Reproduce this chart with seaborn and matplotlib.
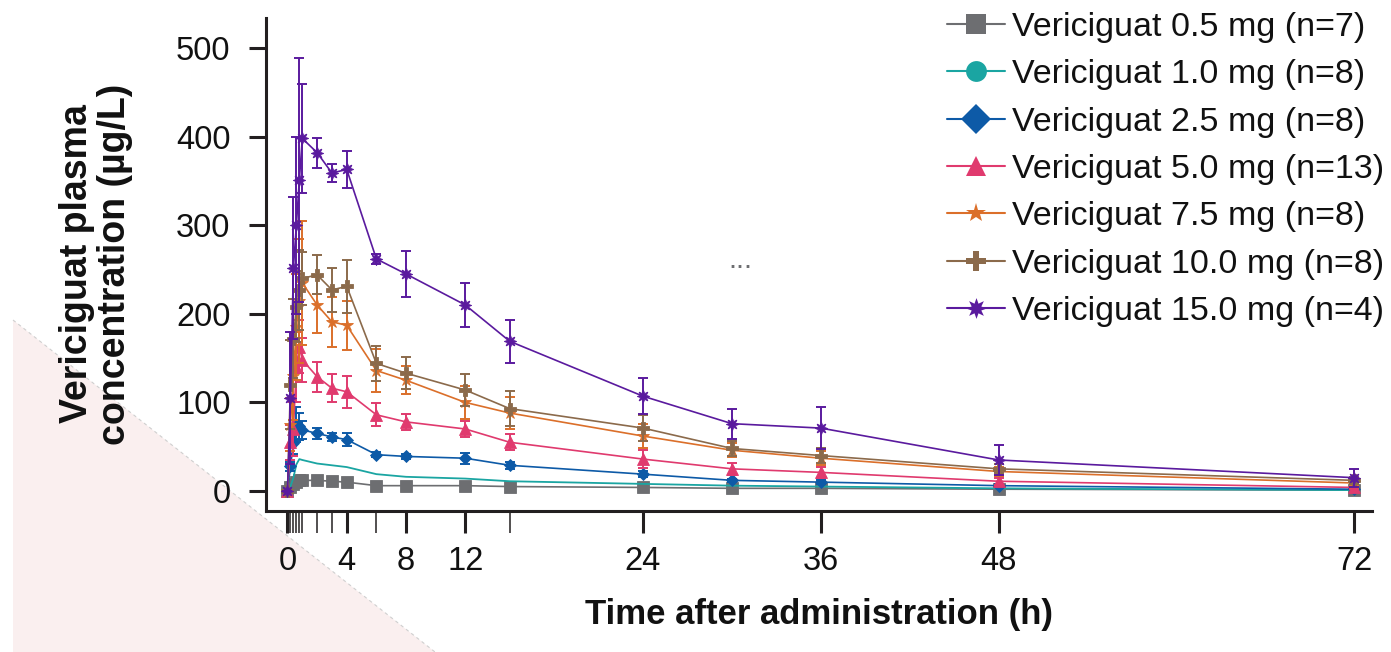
import seaborn as sns
import pandas as pd
import matplotlib.pyplot as plt
from matplotlib.lines import Line2D
from matplotlib.patches import Polygon

# sampling times (h)
times = [0, 0.2, 0.4, 0.6, 0.8, 1, 2, 3, 4, 6, 8, 12, 15, 24, 30, 36, 48, 72]

labels = ['Vericiguat 0.5 mg (n=7)', 'Vericiguat 1.0 mg (n=8)', 'Vericiguat 2.5 mg (n=8)',
          'Vericiguat 5.0 mg (n=13)', 'Vericiguat 7.5 mg (n=8)', 'Vericiguat 10.0 mg (n=8)',
          'Vericiguat 15.0 mg (n=4)']

# mean plasma concentration (ug/L) and SD per dose
conc_05 = [0, 4, 8, 10, 12, 12, 12, 11, 10, 6, 6, 6, 5, 4, 3, 3, 2, 1]
sd_05 = [0, 1, 2, 2, 2, 2, 2, 2, 2, 1, 1, 1, 1, 1, 1, 1, 0.5, 0.5]
conc_10 = [0, 5, 15, 30, 36, 35, 31, 29, 27, 19, 16, 14, 11, 8, 6, 5, 3, 1]
conc_25 = [0, 28, 54, 75, 73, 69, 65, 61, 58, 41, 39, 37, 29, 19, 12, 10, 6, 2]
sd_25 = [0, 5, 12, 20, 15, 10, 6, 5, 7, 3, 3, 6, 4, 3, 2, 2, 1.5, 1]
conc_50 = [0, 55, 70, 140, 163, 148, 129, 116, 112, 86, 78, 70, 55, 36, 25, 21, 11, 4]
sd_50 = [0, 20, 30, 40, 30, 25, 17, 16, 18, 13, 9, 9, 9, 10, 7, 6, 4, 2]
conc_75 = [0, 75, 130, 185, 215, 235, 210, 191, 187, 136, 125, 100, 88, 62, 46, 37, 22, 9]
sd_75 = [0, 30, 50, 60, 70, 70, 32, 28, 28, 24, 16, 19, 18, 14, 8, 8, 5, 3]
conc_100 = [0, 120, 172, 208, 227, 240, 244, 227, 231, 144, 133, 114, 93, 71, 48, 40, 25, 12]
sd_100 = [0, 50, 45, 40, 45, 30, 22, 25, 30, 20, 18, 18, 20, 15, 8, 8, 5, 4]
conc_150 = [0, 105, 252, 300, 351, 398, 382, 359, 363, 262, 245, 210, 169, 107, 76, 71, 35, 15]
sd_150 = [0, 75, 80, 100, 138, 62, 17, 10, 21, 6, 26, 25, 24, 20, 17, 24, 17, 10]

major_ticks = [0, 4, 8, 12, 24, 36, 48, 72]
minor_ticks = [0.2, 0.4, 0.6, 0.8, 1, 2, 3, 6, 15]

colors = ['#6d6e71', '#1aa5a2', '#0d5aa7', '#e03a6e', '#db6f2a', '#8b6a4b', '#5a1a9e']
markers = ['s', 'o', 'D', '^', '*', 'P', (8, 1, 0)]
msizes = [9, 6, 6, 8, 9, 9, 9]

series = [(conc_05, sd_05), (conc_10, None), (conc_25, sd_25), (conc_50, sd_50),
          (conc_75, sd_75), (conc_100, sd_100), (conc_150, sd_150)]

sns.set_style('ticks')
plt.rcParams['font.family'] = ['Liberation Sans', 'DejaVu Sans']
plt.rcParams['text.color'] = '#111111'
plt.rcParams['axes.labelcolor'] = '#111111'
plt.rcParams['xtick.labelcolor'] = '#111111'
plt.rcParams['ytick.labelcolor'] = '#111111'

fig = plt.figure(figsize=(13.91, 6.52), dpi=100)
ax = fig.add_axes([266 / 1391, 141 / 652, 1106 / 1391, 493 / 652])
ax.set_facecolor('none')

# faint pink page corner in the lower left
fig.patches.append(Polygon([(13 / 1391, 0), (13 / 1391, 332 / 652), (435 / 1391, 0)],
                           closed=True, transform=fig.transFigure, facecolor='#faefef',
                           edgecolor='none', zorder=-5))
fig.lines.append(Line2D([13 / 1391, 435 / 1391], [332 / 652, 0], transform=fig.transFigure,
                        color='#cfcfcf', lw=0.8, ls=(0, (3, 3)), zorder=-4))

for i, (conc, sd) in enumerate(series):
    df = pd.DataFrame({'time': times, 'conc': conc})
    if i == 1:
        # 1.0 mg drawn as a plain line
        sns.lineplot(data=df, x='time', y='conc', ax=ax, color=colors[i], linewidth=1.3,
                     errorbar=None, sort=False, legend=False)
        continue
    sns.lineplot(data=df, x='time', y='conc', ax=ax, color=colors[i], linewidth=1.2,
                 marker=markers[i], markersize=msizes[i], markeredgewidth=0.6,
                 markeredgecolor=colors[i], errorbar=None, sort=False, legend=False)
    ax.errorbar(times, conc, yerr=sd, fmt='none', ecolor=colors[i], elinewidth=1.4,
                capsize=3.5, capthick=1.4)

ax.set_xlim(-1.45, 73.2)
ax.set_ylim(-22.6, 534)
ax.set_yticks([0, 100, 200, 300, 400, 500])
ax.set_xticks(major_ticks)
ax.set_xticks(minor_ticks, minor=True)
ax.tick_params(axis='y', length=12.5, width=2.2, labelsize=23.5, pad=13, color='#231f20')
ax.tick_params(axis='x', which='major', length=16, width=2.2, labelsize=23.5, pad=9,
               color='#231f20')
ax.tick_params(axis='x', which='minor', length=16, width=1.1, color='#231f20')
for s in ['left', 'bottom']:
    ax.spines[s].set_linewidth(2.2)
    ax.spines[s].set_color('#231f20')
sns.despine(ax=ax)

ax.set_xlabel('Time after administration (h)', fontsize=25, fontweight='bold', labelpad=15)
ax.set_ylabel('')
fig.text(96 / 1391, 1 - 264 / 652, 'Vericiguat plasma\nconcentration (µg/L)', rotation=90,
         ha='center', va='center', fontsize=27, fontweight='bold', multialignment='center',
         linespacing=1.1)

fig.text(740 / 1391, 1 - 260 / 652, '...', color='#6d6e71', fontsize=21, ha='center', va='center')

handles = [Line2D([0], [0], color=c, marker=m, markersize=15, lw=1.5, markeredgewidth=0)
           for c, m in zip(colors, markers)]
fig.legend(handles, labels, loc='upper left', bbox_to_anchor=(947 / 1391, 1 - 12 / 652),
           frameon=False, fontsize=24.5, handlelength=1.7, handletextpad=0.2,
           labelspacing=0.48, borderpad=0, borderaxespad=0)

fig.savefig('out.png', dpi=100)
